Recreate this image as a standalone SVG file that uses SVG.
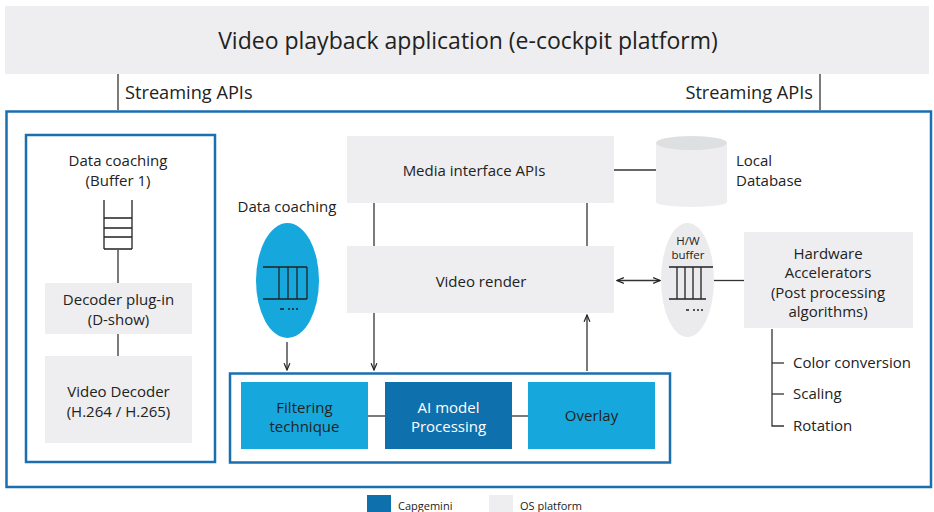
<svg xmlns="http://www.w3.org/2000/svg" width="934" height="512" viewBox="0 0 934 512">
  <defs>
    <style>
      text { font-family: "Open Sans", "Noto Sans", "DejaVu Sans", sans-serif; fill: #222; }
      .lbl { font-size: 15px; text-anchor: middle; }
      .lft { font-size: 15px; }
      .api { font-size: 18.2px; }
      .os { fill: #eeeef0; }
      .frame { fill: none; stroke: #1b6fae; stroke-width: 2.5; }
      .ln { stroke: #333; stroke-width: 1.3; fill: none; }
      .ic { stroke: #222; stroke-width: 1.3; fill: none; }
    </style>
    <marker id="ah" viewBox="0 0 8 8" refX="7" refY="4" markerWidth="6" markerHeight="6" orient="auto-start-reverse">
      <path d="M0,1 L7,4 L0,7" fill="none" stroke="#222" stroke-width="1.2"/>
    </marker>
  </defs>

  <!-- application layer -->
  <g id="app">
    <rect class="os" x="5" y="6" width="924" height="68"/>
    <text x="468" y="49" font-size="23" text-anchor="middle">Video playback application (e-cockpit platform)</text>
  </g>

  <!-- outer platform frame -->
  <g id="platform">
    <rect class="frame" x="6.5" y="111.5" width="924.5" height="375.5"/>
  </g>

  <g id="connectors">
    <line class="ln" x1="118" y1="74" x2="118" y2="110"/>
    <line class="ln" x1="820" y1="74" x2="820" y2="110"/>
    <line class="ln" x1="118" y1="250" x2="118" y2="283"/>
    <line class="ln" x1="118" y1="334" x2="118" y2="356"/>
    <line class="ln" x1="614" y1="170" x2="656" y2="170"/>
    <line class="ln" x1="374" y1="203" x2="374" y2="246"/>
    <line class="ln" x1="587" y1="203" x2="587" y2="246"/>
    <line class="ln" x1="374" y1="313" x2="374" y2="370" marker-end="url(#ah)"/>
    <line class="ln" x1="587" y1="371" x2="587" y2="315" marker-end="url(#ah)"/>
    <line class="ln" x1="287" y1="342" x2="287" y2="370" marker-end="url(#ah)"/>
    <line class="ln" x1="617" y1="280.5" x2="660" y2="280.5" marker-start="url(#ah)" marker-end="url(#ah)"/>
    <line class="ln" x1="714" y1="280.5" x2="744" y2="280.5"/>
    <line class="ln" x1="368" y1="416" x2="385" y2="416"/>
    <line class="ln" x1="512" y1="416" x2="528" y2="416"/>
    <polyline class="ln" points="772,329 772,426 784,426"/>
    <line class="ln" x1="772" y1="363" x2="784" y2="363"/>
    <line class="ln" x1="772" y1="394" x2="784" y2="394"/>
  </g>

  <g id="streaming-left">
    <text class="api" x="125" y="99">Streaming APIs</text>
  </g>
  <g id="streaming-right">
    <text class="api" x="813" y="99" text-anchor="end">Streaming APIs</text>
  </g>

  <!-- decoding chain -->
  <g id="decode-group">
    <rect class="frame" x="26" y="135" width="189" height="327"/>
  </g>
  <g id="buffer1">
    <text class="lbl" x="118" y="166">Data coaching</text>
    <text class="lbl" x="118" y="186">(Buffer 1)</text>
    <path class="ic" d="M104,200 V249 M132,200 V249 M104,218 H132 M104,228 H132 M104,237 H132 M104,249 H132"/>
  </g>
  <g id="decoder-plugin">
    <rect class="os" x="45" y="283" width="147" height="51"/>
    <text class="lbl" x="118.5" y="305">Decoder plug-in</text>
    <text class="lbl" x="118.5" y="325">(D-show)</text>
  </g>
  <g id="video-decoder">
    <rect class="os" x="45" y="356" width="147" height="87"/>
    <text class="lbl" x="118.5" y="397">Video Decoder</text>
    <text class="lbl" x="118.5" y="417">(H.264 / H.265)</text>
  </g>

  <!-- streaming data buffer -->
  <g id="data-coaching">
    <text class="lbl" x="287" y="212">Data coaching</text>
    <ellipse cx="287.5" cy="280.5" rx="31.5" ry="57.5" fill="#16a8dd"/>
    <path class="ic" d="M263,267 H307 M263,299 H307 M279,267 V299 M288,267 V299 M297,267 V299 M307,267 V299"/>
    <path class="ic" d="M280,309 H284 M288,309 H290 M292,309 H294 M296,309 H298"/>
  </g>

  <g id="media-api">
    <rect class="os" x="347" y="136" width="267" height="67"/>
    <text class="lbl" x="474" y="176" font-size="15.5">Media interface APIs</text>
  </g>
  <g id="video-render">
    <rect class="os" x="347" y="246" width="267" height="67"/>
    <text class="lbl" x="481" y="287" font-size="15.5">Video render</text>
  </g>

  <g id="local-db">
    <rect x="656" y="143" width="71" height="59" fill="#eeeef0"/>
    <ellipse cx="691.5" cy="202" rx="35.5" ry="5" fill="#eeeef0"/>
    <ellipse cx="691.5" cy="143" rx="35.5" ry="7" fill="#dedfe1"/>
    <text class="lft" x="736" y="166">Local</text>
    <text class="lft" x="736" y="186">Database</text>
  </g>

  <g id="hw-buffer">
    <ellipse cx="687.5" cy="280" rx="26.5" ry="57" fill="#ebebed"/>
    <text x="688" y="245" font-size="11.5" text-anchor="middle">H/W</text>
    <text x="688" y="259" font-size="11.5" text-anchor="middle">buffer</text>
    <path class="ic" d="M669,267 H713 M669,299 H706 M677,267 V299 M685,267 V299 M693,267 V299 M701,267 V299"/>
    <path class="ic" d="M686,310 H689 M693,310 H695 M697,310 H699 M701,310 H703"/>
  </g>

  <g id="hw-accel">
    <rect class="os" x="744" y="232" width="169" height="96"/>
    <text class="lbl" x="828" y="259">Hardware</text>
    <text class="lbl" x="828" y="278">Accelerators</text>
    <text class="lbl" x="828" y="298">(Post processing</text>
    <text class="lbl" x="828" y="317">algorithms)</text>
  </g>
  <g id="color-conversion"><text class="lft" x="793" y="368">Color conversion</text></g>
  <g id="scaling"><text class="lft" x="793" y="399">Scaling</text></g>
  <g id="rotation"><text class="lft" x="793" y="431">Rotation</text></g>

  <!-- processing pipeline -->
  <g id="pipeline">
    <rect class="frame" x="230" y="373.5" width="440" height="89"/>
  </g>
  <g id="filtering">
    <rect x="241" y="382" width="127" height="67" fill="#16a8dd"/>
    <text class="lbl" x="304.5" y="413">Filtering</text>
    <text class="lbl" x="304.5" y="432">technique</text>
  </g>
  <g id="ai-model">
    <rect x="385" y="382" width="127" height="67" fill="#0f70ae"/>
    <text class="lbl" x="448.5" y="413" style="fill:#fff">AI model</text>
    <text class="lbl" x="448.5" y="432" style="fill:#fff">Processing</text>
  </g>
  <g id="overlay">
    <rect x="528" y="382" width="127" height="67" fill="#16a8dd"/>
    <text class="lbl" x="591.5" y="421">Overlay</text>
  </g>

  <!-- legend -->
  <g id="legend">
    <rect x="367" y="495" width="24" height="17" fill="#0f70ae"/>
    <text x="398" y="510" font-size="11">Capgemini</text>
    <rect class="os" x="489" y="495" width="24" height="17"/>
    <text x="520" y="510" font-size="11">OS platform</text>
  </g>
</svg>
